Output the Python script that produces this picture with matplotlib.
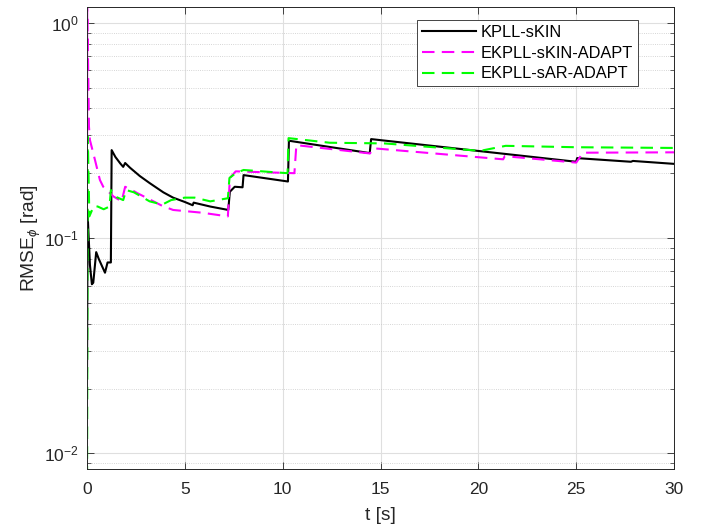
import matplotlib
matplotlib.use("Agg")
import matplotlib.pyplot as plt
from matplotlib.ticker import LogLocator, NullFormatter, FixedLocator

plt.rcParams['font.family'] = ['Liberation Sans', 'DejaVu Sans']
plt.rcParams['mathtext.fontset'] = 'custom'
plt.rcParams['mathtext.rm'] = 'Liberation Sans'
plt.rcParams['mathtext.it'] = 'Liberation Sans:italic'

# KPLL-sKIN (black)
t_kin = [0.0, 0.03, 0.15, 0.25, 0.32, 0.47, 0.6, 0.92, 1.05, 1.22, 1.26, 1.45, 1.7,
         1.85, 1.95, 2.2, 2.7, 3.2, 3.9, 4.4, 5.0, 5.4, 5.45, 6.3, 7.22, 7.3, 7.55,
         7.95, 8.0, 10.27, 10.32, 14.45, 14.52, 25.0, 25.05, 27.8, 27.9, 30.0]
rmse_kin = [0.024, 0.13, 0.075, 0.061, 0.062, 0.086, 0.080, 0.069, 0.077, 0.077, 0.256, 0.238, 0.222,
            0.214, 0.223, 0.212, 0.194, 0.180, 0.163, 0.154, 0.147, 0.142, 0.146, 0.140, 0.135, 0.164, 0.173,
            0.172, 0.196, 0.183, 0.283, 0.248, 0.288, 0.226, 0.235, 0.226, 0.228, 0.221]

# EKPLL-sKIN-ADAPT (magenta)
t_kin_ad = [0.0, 0.01, 0.1, 0.15, 0.41, 0.66, 0.83, 1.35, 1.77, 1.95, 2.4,
            2.55, 3.85, 4.4, 5.9, 7.2, 7.3, 7.6, 10.6, 10.7, 14.46, 14.65, 21.27, 21.35,
            25.0, 25.35, 30.0]
rmse_kin_ad = [0.027, 1.3, 0.33, 0.285, 0.23, 0.186, 0.173, 0.156, 0.148, 0.173, 0.165,
               0.162, 0.141, 0.135, 0.131, 0.126, 0.190, 0.204, 0.200, 0.270, 0.247, 0.261, 0.232, 0.240,
               0.224, 0.249, 0.250]

# EKPLL-sAR-ADAPT (green)
t_ar_ad = [0.0, 0.04, 0.12, 0.35, 0.55, 0.85, 1.15, 1.22, 1.5, 1.85, 2.0, 2.4, 3.2,
           3.85, 4.3, 5.0, 5.5, 6.3, 7.2, 7.28, 7.6, 8.0, 10.25, 10.3, 12.4, 15.2, 20.1,
           21.4, 25.0, 30.0]
rmse_ar_ad = [0.005, 0.295, 0.126, 0.141, 0.140, 0.136, 0.140, 0.167, 0.155, 0.150, 0.167, 0.163, 0.148,
              0.143, 0.150, 0.154, 0.154, 0.148, 0.153, 0.190, 0.200, 0.207, 0.200, 0.291, 0.277, 0.275, 0.254,
              0.268, 0.264, 0.262]

fig = plt.figure(figsize=(7.05, 5.27), dpi=100)
ax = fig.add_axes([87 / 705, 1 - 469.3 / 527, 587 / 705, 462 / 527])

ax.semilogy(t_kin, rmse_kin, color='k', lw=1.5, label='KPLL-sKIN')
ax.semilogy(t_kin_ad, rmse_kin_ad, color=(1, 0, 1), lw=1.5, dashes=(6, 3.5), label='EKPLL-sKIN-ADAPT')
ax.semilogy(t_ar_ad, rmse_ar_ad, color=(0, 1, 0), lw=1.5, dashes=(6, 3.5), label='EKPLL-sAR-ADAPT')

ax.set_xlim(0, 30)
ax.set_ylim(0.00843, 1.179)
ax.set_xticks([0, 5, 10, 15, 20, 25, 30])
ax.yaxis.set_major_locator(FixedLocator([0.01, 0.1, 1.0]))
ax.set_yticklabels([r'$10^{-2}$', r'$10^{-1}$', r'$10^{0}$'])
ax.yaxis.set_minor_locator(LogLocator(base=10, subs=range(2, 10)))
ax.yaxis.set_minor_formatter(NullFormatter())

ax.grid(which='major', color='#dfdfdf', lw=0.8)
ax.grid(which='minor', axis='y', color='#c8c8c8', lw=0.6, ls=':')
ax.set_axisbelow(True)

ax.tick_params(which='both', direction='in', top=True, right=True, colors='#262626',
               labelsize=12.5, labelcolor='#262626')
ax.tick_params(axis='x', which='major', pad=9)
ax.tick_params(axis='y', which='major', pad=6)
ax.tick_params(which='major', length=5, width=0.6)
ax.tick_params(which='minor', length=3, width=0.5)
for s in ax.spines.values():
    s.set_color('#262626')
    s.set_linewidth(0.7)

ax.set_xlabel('t [s]', fontsize=13.8, color='#262626', labelpad=7)
ax.set_ylabel(r'RMSE$_{\phi}$ [rad]', fontsize=13.8, color='#262626', labelpad=1)

leg = ax.legend(loc='upper right', bbox_to_anchor=(0.9387, 0.9725), fontsize=11.8,
                frameon=True, fancybox=False, framealpha=1, edgecolor='#262626',
                handlelength=3.3, handletextpad=0.3, labelspacing=0.35, borderpad=0.3,
                borderaxespad=0)
leg.get_frame().set_linewidth(0.6)

fig.savefig('out.png', dpi=100)
